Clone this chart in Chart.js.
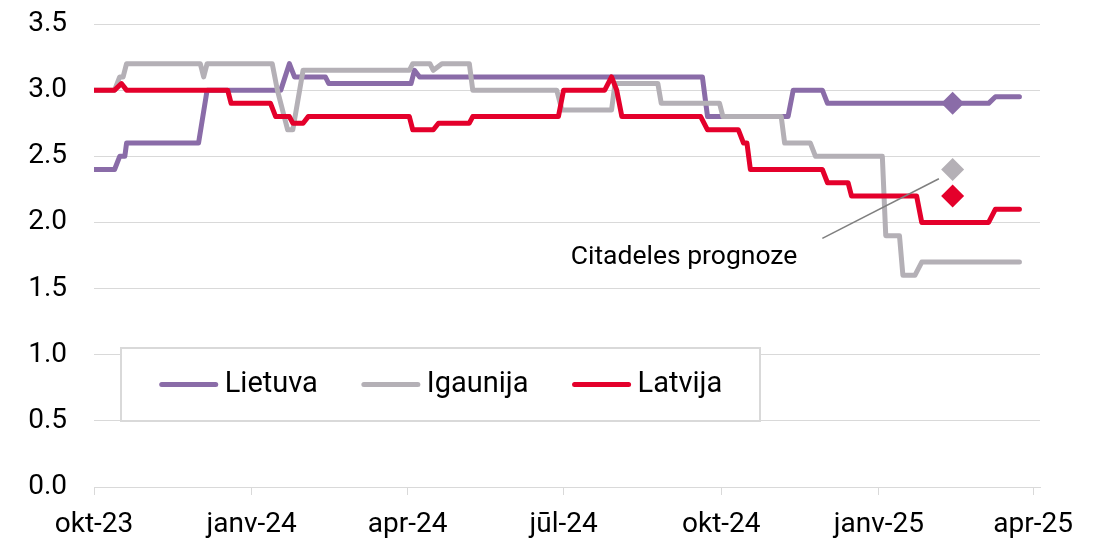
<!DOCTYPE html>
<html>
<head>
<meta charset="utf-8">
<script src="https://cdn.jsdelivr.net/npm/chart.js@4.4.1/dist/chart.umd.min.js"></script>
<style>
  html, body { margin: 0; padding: 0; background: #fff; }
</style>
</head>
<body>
<canvas id="rates" width="1097" height="539"></canvas>
<script>
const startDate = "2023-10-01";
const endDate = "2025-04-05";

const tickDates = ["2023-10-01", "2024-01-01", "2024-04-01", "2024-07-01", "2024-10-01", "2025-01-01", "2025-04-01"];
const tickLabels = ["okt-23", "janv-24", "apr-24", "jūl-24", "okt-24", "janv-25", "apr-25"];

const seriesNames = ["Lietuva", "Igaunija", "Latvija"];
const seriesColors = ["#8a6ca8", "#b4b0b6", "#e4002b"];

const lietuvaDates = ["2023-10-01", "2023-10-13", "2023-10-16", "2023-10-19", "2023-10-20", "2023-12-01", "2023-12-06",
  "2024-01-18", "2024-01-23", "2024-01-26", "2024-02-13", "2024-02-15", "2024-04-03", "2024-04-05", "2024-04-08",
  "2024-09-20", "2024-09-23", "2024-11-09", "2024-11-12", "2024-11-29", "2024-12-02", "2025-03-06", "2025-03-10", "2025-03-24"];
const lietuvaValues = [2.4, 2.4, 2.5, 2.5, 2.6, 2.6, 3.0,
  3.0, 3.2, 3.1, 3.1, 3.05, 3.05, 3.15, 3.1,
  3.1, 2.8, 2.8, 3.0, 3.0, 2.9, 2.9, 2.95, 2.95];

const igaunijaDates = ["2023-10-01", "2023-10-13", "2023-10-16", "2023-10-18", "2023-10-20", "2023-12-02", "2023-12-04", "2023-12-06",
  "2024-01-13", "2024-01-16", "2024-01-22", "2024-01-25", "2024-01-31", "2024-04-02", "2024-04-04", "2024-04-14", "2024-04-16",
  "2024-04-21", "2024-05-07", "2024-05-09", "2024-06-27", "2024-06-30", "2024-07-29", "2024-07-31", "2024-08-25", "2024-08-27",
  "2024-09-30", "2024-10-02", "2024-11-05", "2024-11-07", "2024-11-22", "2024-11-25", "2025-01-03", "2025-01-05",
  "2025-01-13", "2025-01-15", "2025-01-22", "2025-01-26", "2025-03-24"];
const igaunijaValues = [3.0, 3.0, 3.1, 3.1, 3.2, 3.2, 3.1, 3.2,
  3.2, 3.0, 2.7, 2.7, 3.15, 3.15, 3.2, 3.2, 3.15,
  3.2, 3.2, 3.0, 3.0, 2.85, 2.85, 3.05, 3.05, 2.9,
  2.9, 2.8, 2.8, 2.6, 2.6, 2.5, 2.5, 1.9,
  1.9, 1.6, 1.6, 1.7, 1.7];

const latvijaDates = ["2023-10-01", "2023-10-13", "2023-10-17", "2023-10-20", "2023-12-18", "2023-12-20",
  "2024-01-12", "2024-01-15", "2024-01-23", "2024-01-25", "2024-01-31", "2024-02-03", "2024-04-02", "2024-04-04",
  "2024-04-16", "2024-04-19", "2024-05-07", "2024-05-09", "2024-06-28", "2024-07-01", "2024-07-25", "2024-07-29",
  "2024-08-01", "2024-08-04", "2024-09-19", "2024-09-23", "2024-10-11", "2024-10-14", "2024-10-16", "2024-10-18",
  "2024-11-29", "2024-12-02", "2024-12-14", "2024-12-16", "2025-01-23", "2025-01-26", "2025-03-06", "2025-03-10", "2025-03-24"];
const latvijaValues = [3.0, 3.0, 3.05, 3.0, 3.0, 2.9,
  2.9, 2.8, 2.8, 2.75, 2.75, 2.8, 2.8, 2.7,
  2.7, 2.75, 2.75, 2.8, 2.8, 3.0, 3.0, 3.1,
  3.0, 2.8, 2.8, 2.7, 2.7, 2.6, 2.6, 2.4,
  2.4, 2.3, 2.3, 2.2, 2.2, 2.0, 2.0, 2.1, 2.1];

// Citadele forecast (one point per country)
const forecastDate = "2025-02-13";
const forecastValues = [2.9, 2.4, 2.2];

const calloutText = "Citadeles prognoze";
const calloutFrom = ["2024-11-29", 1.88];
const calloutTo = ["2025-02-05", 2.33];

function dayOf(s) {
  return (Date.parse(s) - Date.parse(startDate)) / 86400000;
}

function points(dates, values) {
  return dates.map((d, i) => ({ x: dayOf(d), y: values[i] }));
}

const lineStyle = {
  borderWidth: 5,
  pointRadius: 0,
  tension: 0,
  fill: false,
  borderJoinStyle: "round",
  borderCapStyle: "round"
};

const datasets = [
  { label: seriesNames[0], data: points(lietuvaDates, lietuvaValues), borderColor: seriesColors[0], order: 3, ...lineStyle },
  { label: seriesNames[1], data: points(igaunijaDates, igaunijaValues), borderColor: seriesColors[1], order: 2, ...lineStyle },
  { label: seriesNames[2], data: points(latvijaDates, latvijaValues), borderColor: seriesColors[2], order: 1, ...lineStyle }
];
forecastValues.forEach((v, i) => {
  datasets.push({
    label: seriesNames[i] + " prognoze",
    data: [{ x: dayOf(forecastDate), y: v }],
    showLine: false,
    pointStyle: "rectRot",
    pointRadius: 11.5,
    pointBackgroundColor: seriesColors[i],
    pointBorderWidth: 0,
    order: 0
  });
});

const legendBox = {
  id: "legendBox",
  afterDatasetsDraw(chart) {
    const { ctx, chartArea } = chart;
    const x = chartArea.left + 27, y = chartArea.top + 324, w = 639, h = 73;
    ctx.save();
    ctx.fillStyle = "#fff";
    ctx.fillRect(x, y, w, h);
    ctx.strokeStyle = "#d9d9d9";
    ctx.lineWidth = 2;
    ctx.strokeRect(x, y, w, h);
    ctx.font = "29px Roboto";
    ctx.textBaseline = "middle";
    const lineLen = 60, gap = 6, itemGap = 43;
    const items = seriesNames.map((name, i) => ({ name, color: seriesColors[i], w: ctx.measureText(name).width }));
    const total = items.reduce((s, it) => s + lineLen + gap + it.w, 0) + itemGap * (items.length - 1);
    let cx = x + (w - total) / 2;
    const cy = y + h / 2;
    items.forEach(it => {
      ctx.strokeStyle = it.color;
      ctx.lineWidth = 5;
      ctx.lineCap = "round";
      ctx.beginPath();
      ctx.moveTo(cx + 3, cy);
      ctx.lineTo(cx + lineLen - 3, cy);
      ctx.stroke();
      ctx.fillStyle = "#000";
      ctx.fillText(it.name, cx + lineLen + gap, cy);
      cx += lineLen + gap + it.w + itemGap;
    });
    ctx.restore();
  },
  afterDraw(chart) {
    const { ctx, scales } = chart;
    const x1 = scales.x.getPixelForValue(dayOf(calloutFrom[0]));
    const y1 = scales.y.getPixelForValue(calloutFrom[1]);
    const x2 = scales.x.getPixelForValue(dayOf(calloutTo[0]));
    const y2 = scales.y.getPixelForValue(calloutTo[1]);
    ctx.save();
    ctx.strokeStyle = "#7f7f7f";
    ctx.lineWidth = 1.5;
    ctx.beginPath();
    ctx.moveTo(x1, y1);
    ctx.lineTo(x2, y2);
    ctx.stroke();
    ctx.font = "26.5px Roboto";
    ctx.fillStyle = "#000";
    ctx.textAlign = "right";
    ctx.textBaseline = "middle";
    ctx.fillText(calloutText, x1 - 25, y1 + 19);
    ctx.restore();
  }
};

new Chart(document.getElementById("rates"), {
  type: "line",
  data: { datasets },
  plugins: [legendBox],
  options: {
    responsive: false,
    animation: false,
    layout: { padding: { top: 24, right: 57, left: 0, bottom: 0 } },
    plugins: {
      legend: { display: false },
      tooltip: { enabled: false }
    },
    scales: {
      x: {
        type: "linear",
        min: 0,
        max: dayOf(endDate),
        afterBuildTicks: scale => {
          scale.ticks = tickDates.map(d => ({ value: dayOf(d) }));
        },
        afterFit: scale => { scale.height = 52; },
        ticks: {
          autoSkip: false,
          maxRotation: 0,
          padding: 13,
          color: "#000",
          font: { family: "Roboto", size: 28 },
          callback: (v, i) => tickLabels[i]
        },
        grid: { drawOnChartArea: false, drawTicks: true, tickLength: 8, color: "#d9d9d9" },
        border: { display: true, color: "#d9d9d9", width: 1 }
      },
      y: {
        min: 0,
        max: 3.5,
        afterFit: scale => {
          scale.width = 94;
          scale.paddingTop = 0;
          scale.paddingBottom = 0;
        },
        ticks: {
          stepSize: 0.5,
          padding: 27,
          color: "#000",
          font: { family: "Roboto", size: 28 },
          callback: v => v.toFixed(1)
        },
        grid: { color: "#d9d9d9", drawTicks: false },
        border: { display: false }
      }
    }
  }
});
</script>
</body>
</html>
